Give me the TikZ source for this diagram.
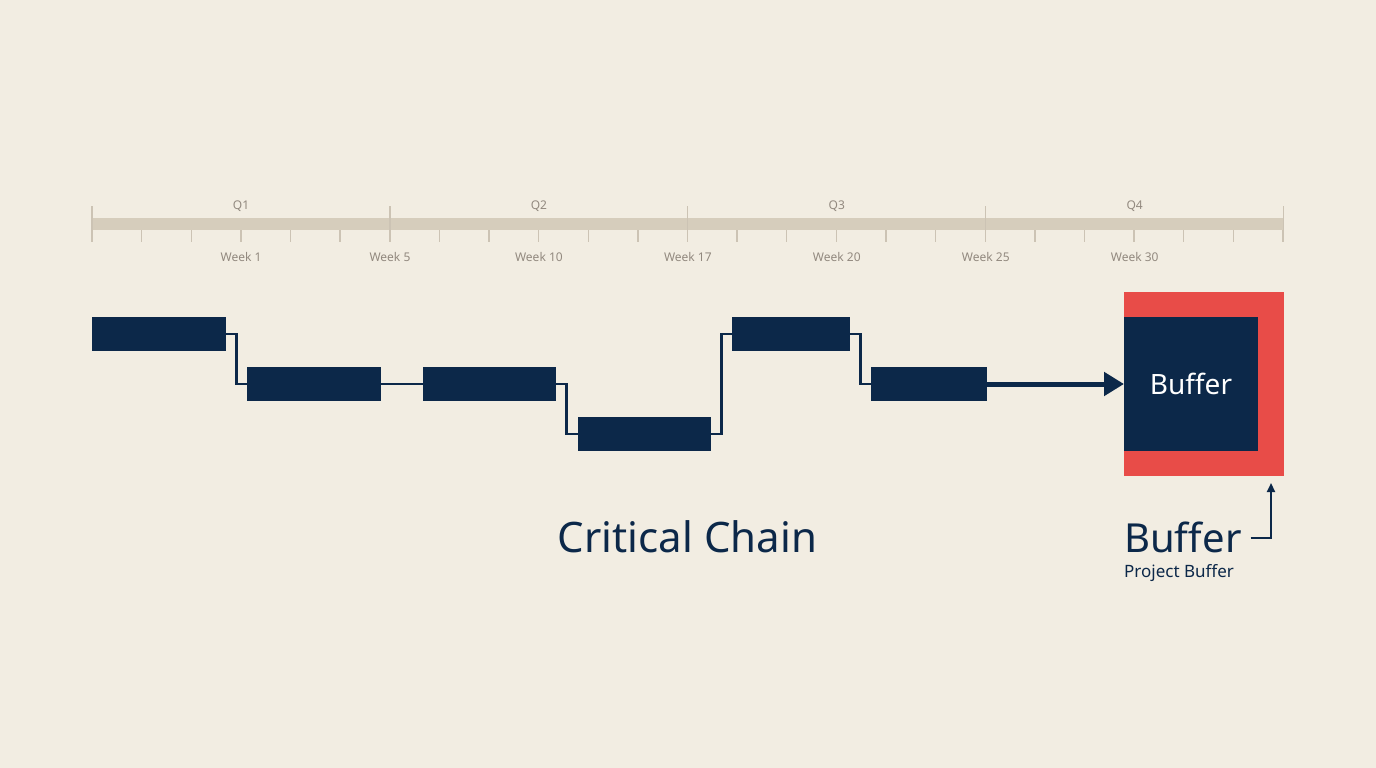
\documentclass[tikz,border=0pt]{standalone}
\usepackage{fontspec}
\setmainfont{Noto Sans}
\usetikzlibrary{arrows.meta,positioning}
\definecolor{fondo}{RGB}{242,237,226}
\definecolor{marino}{RGB}{12,40,73}
\definecolor{rojo}{RGB}{232,76,72}
\definecolor{arena}{RGB}{214,205,188}
\definecolor{rayita}{RGB}{204,195,180}
\definecolor{grisf}{RGB}{146,137,127}
\tikzset{
  tarea/.style={fill=marino, inner sep=0pt, outer sep=0pt, minimum height=34pt},
  colchon/.style={fill=rojo, inner sep=0pt, outer sep=0pt, minimum width=160pt, minimum height=184pt},
  nucleo/.style={fill=marino, inner sep=0pt, outer sep=0pt, minimum width=134pt, minimum height=134pt,
    text=white, font=\fontsize{28}{30}\selectfont},
  enlace/.style={draw=marino, line width=2.5pt},
  fl/.style={-{Triangle[length=20pt,width=23pt]}, line width=5pt, marino},
  flfino/.style={-{Triangle[length=9pt,width=8pt]}, line width=2pt, marino},
  marca/.style={draw=rayita, line width=1.3pt},
  et/.style={font=\fontsize{12}{14}\selectfont, text=grisf},
}

\begin{document}
\begin{tikzpicture}[x=1pt, y=-1pt]
  \fill[fondo] (0,0) rectangle (1376,768);
  \useasboundingbox (0,0) rectangle (1376,768);
  % timeline
  \fill[arena] (92,218) rectangle (1284,230);
  \foreach \i in {0,...,24}
    \draw[marca] (92+49.625*\i,230) -- ++(0,12);
  \foreach \i in {0,...,4}
    \draw[marca] (92+297.9*\i,206) -- (92+297.9*\i,242);
  \foreach \q [count=\k from 0] in {Q1,Q2,Q3,Q4}
    \node[et] (q\k) at (241+297.9*\k,206) {\q};
  \foreach \w [count=\k from 0] in {1,5,10,17,20,25,30}
    \node[et] (w\k) at (241+148.95*\k,257) {Week \w};
  % tasks
  \node[tarea, minimum width=134pt] (t1) at (159,334) {};
  \node[tarea, minimum width=134pt] (t2) at (314,384) {};
  \node[tarea, minimum width=133pt] (t3) at (489.5,384) {};
  \node[tarea, minimum width=133pt] (t4) at (644.5,434) {};
  \node[tarea, minimum width=118pt] (t5) at (791,334) {};
  \node[tarea, minimum width=116pt] (t6) at (929,384) {};
  \draw[enlace] (t1.east) -- ++(10.5,0) |- (t2.west);
  \draw[enlace] (t2.east) -- (t3.west);
  \draw[enlace] (t3.east) -- ++(10.5,0) |- (t4.west);
  \draw[enlace] (t4.east) -- ++(10.5,0) |- (t5.west);
  \draw[enlace] (t5.east) -- ++(10.5,0) |- (t6.west);
  % buffer
  \node[colchon] (buf) at (1204,384) {};
  \node[nucleo] (bufin) at (1191,384) {Buffer};
  \draw[fl] (t6.east) -- (bufin.west);
  % labels
  \node[text=marino, font=\fontsize{42}{46}\selectfont] (cadena) at (687.5,537) {Critical Chain};
  \node[text=marino, font=\fontsize{40}{44}\selectfont, anchor=base west, inner sep=0pt] (etbuf) at (1124,552) {Buffer};
  \node[text=marino, font=\fontsize{17}{20}\selectfont, anchor=base west, inner sep=0pt] (etproj) at (1124,577) {Project Buffer};
  \coordinate (codo) at (1271,538);
  \draw[flfino] ([xshift=9pt]etbuf.east |- codo) -- (codo) -- ([yshift=-7pt]buf.south -| codo);
\end{tikzpicture}
\end{document}
